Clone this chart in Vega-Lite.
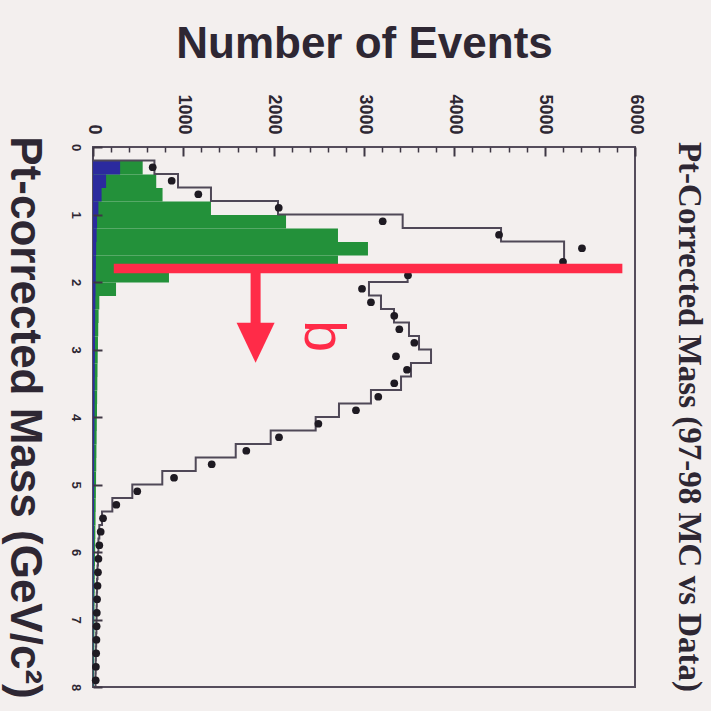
{
  "$schema": "https://vega.github.io/schema/vega-lite/v6.json",
  "width": 542,
  "height": 540,
  "autosize": {"type": "none"},
  "padding": {"left": 93, "top": 147, "right": 76, "bottom": 24},
  "background": "#f3efee",
  "config": {
    "view": {"stroke": "#554d5c", "strokeWidth": 2, "fill": "#f3efee"},
    "font": "Liberation Sans"
  },
  "title": {
    "text": "Pt-Corrected Mass (97-98 MC vs Data)",
    "orient": "right",
    "angle": 90,
    "anchor": "middle",
    "baseline": "alphabetic",
    "offset": 2,
    "font": "Liberation Serif",
    "fontWeight": "bold",
    "fontSize": 33,
    "color": "#2e2733"
  },
  "resolve": {"axis": {"x": "independent"}},
  "datasets": {
    "hist": [
      {"lo": 0.0, "hi": 0.2, "mid": 0.1, "mc": 0, "data": null, "green": 0, "blue": 0},
      {"lo": 0.2, "hi": 0.4, "mid": 0.3, "mc": 680, "data": 661, "green": 550, "blue": 300},
      {"lo": 0.4, "hi": 0.6, "mid": 0.5, "mc": 941, "data": 871, "green": 700, "blue": 145},
      {"lo": 0.6, "hi": 0.8, "mid": 0.7, "mc": 1306, "data": 1166, "green": 770, "blue": 95},
      {"lo": 0.8, "hi": 1.0, "mid": 0.9, "mc": 2048, "data": 2056, "green": 1306, "blue": 60},
      {"lo": 1.0, "hi": 1.2, "mid": 1.1, "mc": 3428, "data": 3207, "green": 2137, "blue": 45},
      {"lo": 1.2, "hi": 1.4, "mid": 1.3, "mc": 4517, "data": 4495, "green": 2712, "blue": 40},
      {"lo": 1.4, "hi": 1.6, "mid": 1.5, "mc": 5215, "data": 5413, "green": 3044, "blue": 35},
      {"lo": 1.6, "hi": 1.8, "mid": 1.7, "mc": 5215, "data": 5203, "green": 2712, "blue": 32},
      {"lo": 1.8, "hi": 2.0, "mid": 1.9, "mc": 3483, "data": 3487, "green": 841, "blue": 30},
      {"lo": 2.0, "hi": 2.2, "mid": 2.1, "mc": 3055, "data": 2978, "green": 255, "blue": 28},
      {"lo": 2.2, "hi": 2.4, "mid": 2.3, "mc": 3188, "data": 3077, "green": 70, "blue": 26},
      {"lo": 2.4, "hi": 2.6, "mid": 2.5, "mc": 3332, "data": 3335, "green": 62, "blue": 24},
      {"lo": 2.6, "hi": 2.8, "mid": 2.7, "mc": 3498, "data": 3391, "green": 58, "blue": 23},
      {"lo": 2.8, "hi": 3.0, "mid": 2.9, "mc": 3609, "data": 3557, "green": 55, "blue": 22},
      {"lo": 3.0, "hi": 3.2, "mid": 3.1, "mc": 3742, "data": 3354, "green": 52, "blue": 21},
      {"lo": 3.2, "hi": 3.4, "mid": 3.3, "mc": 3520, "data": 3476, "green": 50, "blue": 20},
      {"lo": 3.4, "hi": 3.6, "mid": 3.5, "mc": 3410, "data": 3335, "green": 48, "blue": 19},
      {"lo": 3.6, "hi": 3.8, "mid": 3.7, "mc": 3077, "data": 3158, "green": 46, "blue": 18},
      {"lo": 3.8, "hi": 4.0, "mid": 3.9, "mc": 2723, "data": 2911, "green": 44, "blue": 17},
      {"lo": 4.0, "hi": 4.2, "mid": 4.1, "mc": 2465, "data": 2495, "green": 42, "blue": 16},
      {"lo": 4.2, "hi": 4.4, "mid": 4.3, "mc": 1967, "data": 2059, "green": 40, "blue": 15},
      {"lo": 4.4, "hi": 4.6, "mid": 4.5, "mc": 1580, "data": 1697, "green": 38, "blue": 14},
      {"lo": 4.6, "hi": 4.8, "mid": 4.7, "mc": 1137, "data": 1314, "green": 36, "blue": 13},
      {"lo": 4.8, "hi": 5.0, "mid": 4.9, "mc": 767, "data": 897, "green": 34, "blue": 12},
      {"lo": 5.0, "hi": 5.2, "mid": 5.1, "mc": 435, "data": 490, "green": 32, "blue": 12},
      {"lo": 5.2, "hi": 5.4, "mid": 5.3, "mc": 214, "data": 258, "green": 30, "blue": 11},
      {"lo": 5.4, "hi": 5.6, "mid": 5.5, "mc": 100, "data": 111, "green": 28, "blue": 10},
      {"lo": 5.6, "hi": 5.8, "mid": 5.7, "mc": 70, "data": 85, "green": 26, "blue": 10},
      {"lo": 5.8, "hi": 6.0, "mid": 5.9, "mc": 60, "data": 70, "green": 24, "blue": 9},
      {"lo": 6.0, "hi": 6.2, "mid": 6.1, "mc": 55, "data": 60, "green": 22, "blue": 9},
      {"lo": 6.2, "hi": 6.4, "mid": 6.3, "mc": 50, "data": 55, "green": 20, "blue": 8},
      {"lo": 6.4, "hi": 6.6, "mid": 6.5, "mc": 45, "data": 50, "green": 19, "blue": 8},
      {"lo": 6.6, "hi": 6.8, "mid": 6.7, "mc": 42, "data": 45, "green": 18, "blue": 7},
      {"lo": 6.8, "hi": 7.0, "mid": 6.9, "mc": 40, "data": 42, "green": 17, "blue": 7},
      {"lo": 7.0, "hi": 7.2, "mid": 7.1, "mc": 38, "data": 40, "green": 16, "blue": 6},
      {"lo": 7.2, "hi": 7.4, "mid": 7.3, "mc": 35, "data": 38, "green": 15, "blue": 6},
      {"lo": 7.4, "hi": 7.6, "mid": 7.5, "mc": 32, "data": 35, "green": 14, "blue": 5},
      {"lo": 7.6, "hi": 7.8, "mid": 7.7, "mc": 30, "data": 32, "green": 13, "blue": 5},
      {"lo": 7.8, "hi": 8.0, "mid": 7.9, "mc": 28, "data": 30, "green": 12, "blue": 5},
      {"lo": 8.0, "mc": 0}
    ],
    "cut": [{"mass": 1.8, "from": 230, "to": 5860}],
    "arrow": [{"n": 1800, "from": 1.8, "to": 2.72, "head": 2.9}],
    "tag": [{"n": 2530, "mass": 2.8, "label": "b"}]
  },
  "layer": [
    {
      "data": {"name": "hist"},
      "mark": {"type": "bar", "color": "#23913a", "binSpacing": 0},
      "encoding": {
        "y": {
          "field": "lo",
          "type": "quantitative",
          "bin": "binned",
          "scale": {"domain": [0, 8], "reverse": true, "nice": false, "zero": false},
          "axis": {
            "orient": "left",
            "offset": -9,
            "values": [0, 1, 2, 3, 4, 5, 6, 7, 8],
            "format": "d",
            "domain": false,
            "grid": false,
            "labelAngle": 90,
            "labelAlign": "center",
            "labelBaseline": "top",
            "labelPadding": 12,
            "labelFontSize": 13,
            "labelFontWeight": "bold",
            "labelColor": "#2e2733",
            "labelFlush": false,
            "ticks": true,
            "tickSize": 9,
            "tickColor": "#3e3744",
            "tickWidth": 2,
            "zindex": 2,
            "title": "Pt-corrected Mass (GeV/c²)",
            "titleAngle": 90,
            "titleAlign": "center",
            "titleBaseline": "alphabetic",
            "titleX": -92,
            "titleFontSize": 44,
            "titleFontWeight": "bold",
            "titleColor": "#2e2733"
          }
        },
        "y2": {"field": "hi"},
        "x": {
          "field": "green",
          "type": "quantitative",
          "scale": {"domain": [0, 6000], "nice": false},
          "axis": {
            "orient": "top",
            "offset": -9,
            "values": [0, 1000, 2000, 3000, 4000, 5000, 6000],
            "format": "d",
            "labelOverlap": false,
            "labelFlush": false,
            "labelAngle": 90,
            "labelAlign": "right",
            "labelBaseline": "middle",
            "labelPadding": 13,
            "labelFontSize": 18,
            "labelFontWeight": "bold",
            "labelColor": "#2e2733",
            "domain": false,
            "grid": false,
            "ticks": true,
            "tickSize": 9,
            "tickColor": "#3e3744",
            "tickWidth": 2,
            "zindex": 2,
            "title": "Number of Events",
            "titleFontSize": 44,
            "titleFontWeight": "bold",
            "titleColor": "#2e2733",
            "titleBaseline": "alphabetic",
            "titleY": -99
          }
        }
      }
    },
    {
      "data": {"name": "hist"},
      "mark": {"type": "bar", "color": "#2b2a9e", "binSpacing": 0},
      "encoding": {
        "y": {"field": "lo", "type": "quantitative", "bin": "binned"},
        "y2": {"field": "hi"},
        "x": {
          "field": "blue",
          "type": "quantitative",
          "axis": {
            "orient": "top",
            "offset": -5,
            "values": [200, 400, 600, 800, 1200, 1400, 1600, 1800, 2200, 2400, 2600, 2800, 3200, 3400, 3600, 3800, 4200, 4400, 4600, 4800, 5200, 5400, 5600, 5800],
            "labels": false,
            "domain": false,
            "grid": false,
            "ticks": true,
            "tickSize": 5,
            "tickColor": "#3e3744",
            "tickWidth": 1.5,
            "zindex": 2,
            "title": null
          }
        }
      }
    },
    {
      "data": {"name": "hist"},
      "mark": {"type": "line", "interpolate": "step-before", "color": "#4f4857", "strokeWidth": 2},
      "encoding": {
        "y": {"field": "lo", "type": "quantitative"},
        "x": {"field": "mc", "type": "quantitative", "axis": null},
        "order": {"field": "lo", "type": "quantitative"}
      }
    },
    {
      "data": {"name": "hist"},
      "mark": {"type": "point", "filled": true, "size": 60, "color": "#1e1a22", "opacity": 1},
      "encoding": {
        "y": {"field": "mid", "type": "quantitative"},
        "x": {"field": "data", "type": "quantitative", "axis": null}
      }
    },
    {
      "data": {"name": "cut"},
      "mark": {"type": "rule", "color": "#ff2b48", "strokeWidth": 9.5},
      "encoding": {
        "y": {"field": "mass", "type": "quantitative"},
        "x": {"field": "from", "type": "quantitative", "axis": null},
        "x2": {"field": "to"}
      }
    },
    {
      "data": {"name": "arrow"},
      "mark": {"type": "rule", "color": "#ff2b48", "strokeWidth": 10},
      "encoding": {
        "x": {"field": "n", "type": "quantitative", "axis": null},
        "y": {"field": "from", "type": "quantitative"},
        "y2": {"field": "to"}
      }
    },
    {
      "data": {"name": "arrow"},
      "mark": {"type": "point", "shape": "M-0.95,-1L0.95,-1L0,1Z", "size": 1600, "filled": true, "color": "#ff2b48", "opacity": 1},
      "encoding": {
        "x": {"field": "n", "type": "quantitative", "axis": null},
        "y": {"field": "head", "type": "quantitative"}
      }
    },
    {
      "data": {"name": "tag"},
      "mark": {"type": "text", "angle": 90, "fontSize": 58, "color": "#ff2b48", "align": "center", "baseline": "middle", "font": "Liberation Sans"},
      "encoding": {
        "x": {"field": "n", "type": "quantitative", "axis": null},
        "y": {"field": "mass", "type": "quantitative"},
        "text": {"field": "label"}
      }
    }
  ]
}
